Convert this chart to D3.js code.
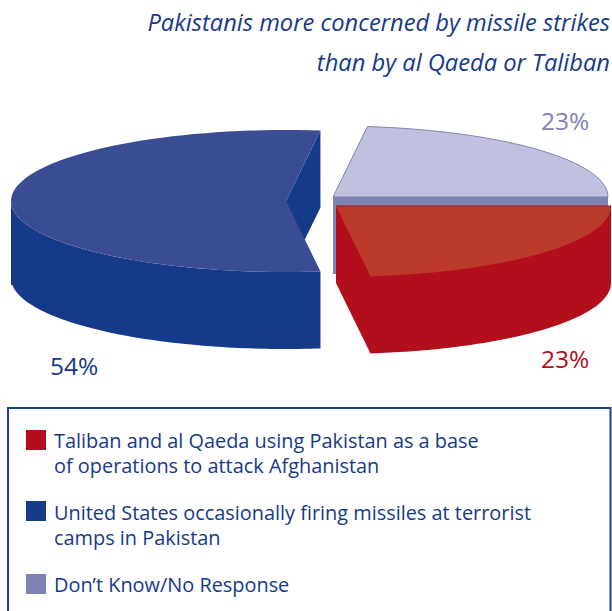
<!DOCTYPE html>
<html>
<head>
<meta charset="utf-8">
<script src="https://cdn.jsdelivr.net/npm/d3@7"></script>
<style>
html,body{margin:0;padding:0;background:#fff;overflow:hidden}
svg{display:block}
text{font-family:"Open Sans","Noto Sans",sans-serif}
</style>
</head>
<body>
<div id="chart"></div>
<script>
const titleLines = ["Pakistanis more concerned by missile strikes", "than by al Qaeda or Taliban"];
const categories = ["Taliban", "United States", "Don't Know"];
const shares = [23, 54, 23];
const shareLabels = ["23%", "54%", "23%"];
const legendLines = [
  ["Taliban and al Qaeda using Pakistan as a base", "of operations to attack Afghanistan"],
  ["United States occasionally firing missiles at terrorist", "camps in Pakistan"],
  ["Don\u2019t Know/No Response"]
];
const topColors = ["#bc3a2a", "#3a4c94", "#c0c1de"];
const sideColors = ["#b30e1b", "#153a8a", "#7f82b5"];
const labelColors = ["#b30e1b", "#153a8a", "#7f82b5"];
const ink = "#153a8a";

// Pie geometry: each exploded wedge has its own centre on the page.
const radiusX = 275, radiusY = 71, depth = 77;
const centers = [[336, 206], [286, 201], [333, 197]];
const labelAt = [[541, 368], [50, 375], [541, 130]];

const svg = d3.select("#chart").append("svg").attr("width", 612).attr("height", 611);

const pie = d3.pie().sort(null).value(d => d)
  .startAngle(Math.PI / 2).endAngle(Math.PI / 2 + 2 * Math.PI);
const wedges = pie(shares);

const xScaleFor = i => d3.scaleLinear([-1, 1], [centers[i][0] - radiusX, centers[i][0] + radiusX]);
const yScaleFor = i => d3.scaleLinear([-1, 1], [centers[i][1] - radiusY, centers[i][1] + radiusY]);

// Point on the rim of wedge i at a clockwise angle from 12 o'clock, dropped by dz.
function rim(i, angle, dz = 0) {
  return [xScaleFor(i)(Math.sin(angle)), yScaleFor(i)(-Math.cos(angle)) + dz];
}
function arcPoints(i, a0, a1, dz = 0) {
  const n = 80;
  return d3.range(n + 1).map(k => rim(i, a0 + (a1 - a0) * k / n, dz));
}
const outline = d3.line();

function topFace(i) {
  const w = wedges[i];
  return outline([centers[i], ...arcPoints(i, w.startAngle, w.endAngle)]) + "Z";
}
function cutFace(i, angle) {
  const c = centers[i], p = rim(i, angle);
  return outline([c, p, [p[0], p[1] + depth], [c[0], c[1] + depth]]) + "Z";
}

const pieLayer = svg.append("g");

// Don't Know wedge sits at the back, with its cut face showing above the red wedge.
const dk = wedges[2];
pieLayer.append("path").attr("d", cutFace(2, dk.endAngle)).attr("fill", sideColors[2]);
pieLayer.append("path").attr("d", topFace(2)).attr("fill", topColors[2])
  .attr("stroke", sideColors[2]).attr("stroke-width", 1);

// Red wedge: wall and near cut face are one silhouette, so no seam shows.
const tb = wedges[0];
const c0 = centers[0];
pieLayer.append("path")
  .attr("d", outline([
    c0,
    rim(0, tb.startAngle),
    ...arcPoints(0, tb.startAngle, tb.endAngle, depth),
    [c0[0], c0[1] + depth]
  ]) + "Z")
  .attr("fill", sideColors[0]);
pieLayer.append("path").attr("d", topFace(0)).attr("fill", topColors[0]);
pieLayer.append("path")
  .attr("d", outline([c0, rim(0, tb.startAngle)]))
  .attr("stroke", sideColors[0]).attr("stroke-width", 1);

// Blue wedge: the front wall, the far cut face seen through the notch, then the top.
const us = wedges[1];
const leftmost = 1.5 * Math.PI;
const lowerEnd = leftmost - 0.1;
const wallTop = arcPoints(1, us.startAngle, leftmost);
const wallLow = arcPoints(1, lowerEnd, us.startAngle, depth);
pieLayer.append("path")
  .attr("d", outline([...wallTop, [wallTop[wallTop.length - 1][0], wallLow[0][1]], ...wallLow]) + "Z")
  .attr("fill", sideColors[1]);
pieLayer.append("path").attr("d", cutFace(1, us.endAngle)).attr("fill", sideColors[1]);
pieLayer.append("path").attr("d", topFace(1)).attr("fill", topColors[1]);

// Percentage labels.
svg.append("g").selectAll("text").data(shareLabels).join("text")
  .attr("x", (d, i) => labelAt[i][0]).attr("y", (d, i) => labelAt[i][1])
  .attr("font-size", 24.5).attr("fill", (d, i) => labelColors[i])
  .text(d => d);

// Title.
svg.append("g").selectAll("text").data(titleLines).join("text")
  .attr("x", 610).attr("y", (d, i) => 31 + i * 40)
  .attr("text-anchor", "end").attr("font-size", 23.7).attr("font-style", "italic")
  .attr("fill", ink).text(d => d);

// Legend.
svg.append("rect").attr("x", 8).attr("y", 408).attr("width", 602.5).attr("height", 210)
  .attr("fill", "none").attr("stroke", "#1f3f8f").attr("stroke-width", 2);
const swatchY = [430, 501, 574];
const baseY = [448, 520, 592];
const legend = svg.append("g").selectAll("g").data(categories).join("g");
legend.append("rect").attr("x", 26).attr("y", (d, i) => swatchY[i])
  .attr("width", 20).attr("height", 20).attr("fill", (d, i) => sideColors[i]);
legend.each(function (d, i) {
  d3.select(this).selectAll("text").data(legendLines[i]).join("text")
    .attr("x", 54).attr("y", (l, j) => baseY[i] + j * 24.5)
    .attr("font-size", 19.9).attr("fill", ink).text(l => l);
});
</script>
</body>
</html>
